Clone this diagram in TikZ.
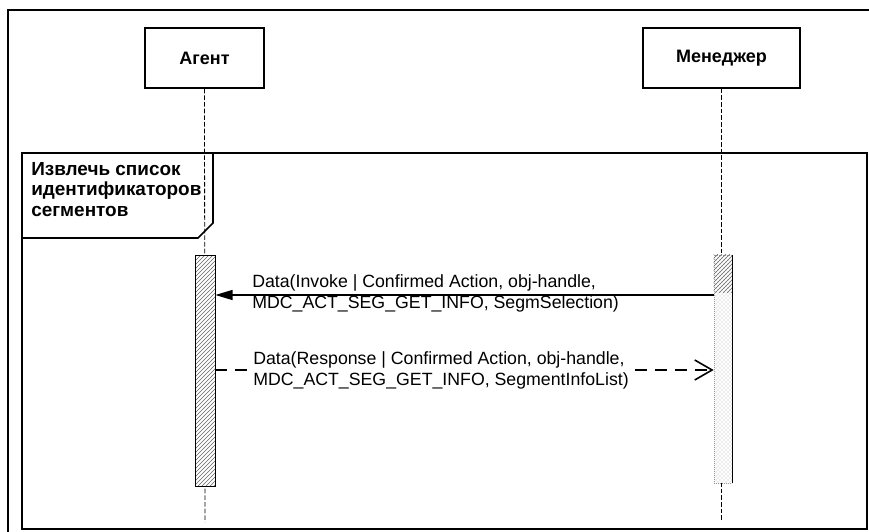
\documentclass[tikz,border=0pt]{standalone}
\usepackage{fontspec}
\setmainfont{Liberation Sans}
\usetikzlibrary{arrows.meta,patterns,positioning}

\begin{document}
\begin{tikzpicture}[x=0.75pt, y=-0.75pt,
    actor/.style={rectangle, draw, line width=0.9pt, minimum width=89.25pt, minimum height=45pt, font=\bfseries\fontsize{13.5}{15}\selectfont},
    lifeline/.style={dash pattern=on 3.5pt off 1.5pt, line width=0.6pt},
    bar/.style={rectangle, draw, line width=0.5pt, inner sep=0pt, minimum width=15pt, minimum height=173.25pt, preaction={fill=white}, pattern=north east lines, pattern color=black!60},
    frame/.style={draw, line width=1.5pt},
    msg/.style={align=left, inner sep=0pt, font=\fontsize{13.3}{15.75}\selectfont},
    call/.style={-{Triangle[length=13pt, width=7.5pt]}, line width=1.2pt},
    reply/.style={-{Straight Barb[length=13pt, width=15pt, line width=1.2pt]}, line width=1.2pt, dash pattern=on 9pt off 6pt}
]
    \path[use as bounding box, clip] (0,0) rectangle (869,532);
    \fill[white] (0,0) rectangle (869,532);

    % Frames
    \draw[frame] (8,10) rectangle (885,550);
    \draw[frame] (22,153) rectangle (867,529);
    \draw[line width=1.2pt] (22,238) -- (198,238) -- (213,223) -- (213,153);
    \node[msg, anchor=north west, font=\bfseries\fontsize{14.2}{15.4}\selectfont] (fragment) at (31,162)
        {Извлечь список\\идентификаторов\\сегментов};

    % Actors
    \node[actor] (agent) at (204.5,58) {Агент};
    \node[actor, minimum width=117.75pt] (manager) at (721.5,58) {Менеджер};
    \coordinate (agentend) at (205,522);
    \coordinate (managerend) at (721.5,521);
    \draw[lifeline] (agent.south) -- (agentend);
    \draw[lifeline] (manager.south) -- (managerend);

    % Activations
    \node[bar] (agentbar) at (205,370.5) {};
    \node[bar, draw=black!40, densely dotted, minimum width=13.5pt, minimum height=171pt, pattern=crosshatch dots, pattern color=black!30] (managerbar) at (723,369) {};
    \fill[pattern=north east lines, pattern color=black!60] (managerbar.north west) rectangle ([yshift=-28pt]managerbar.north east);
    \draw[line width=0.6pt] (managerbar.north east) -- (managerbar.south east);

    % Messages
    \coordinate (invoke) at (0,295);
    \coordinate (response) at (0,370);
    \draw[call] (managerbar.west |- invoke) -- (agentbar.east |- invoke);
    \node[msg, anchor=west] (invokelabel) at (252,293.5)
        {Data(Invoke | Confirmed Action, obj-handle,\\MDC\_ACT\_SEG\_GET\_INFO, SegmSelection)};
    \draw[reply] (agentbar.east |- response) -- (managerbar.west |- response);
    \node[msg, anchor=west, fill=white, inner xsep=3pt, inner ysep=1pt] (responselabel) at (249,370)
        {Data(Response | Confirmed Action, obj-handle,\\MDC\_ACT\_SEG\_GET\_INFO, SegmentInfoList)};

\end{tikzpicture}
\end{document}
